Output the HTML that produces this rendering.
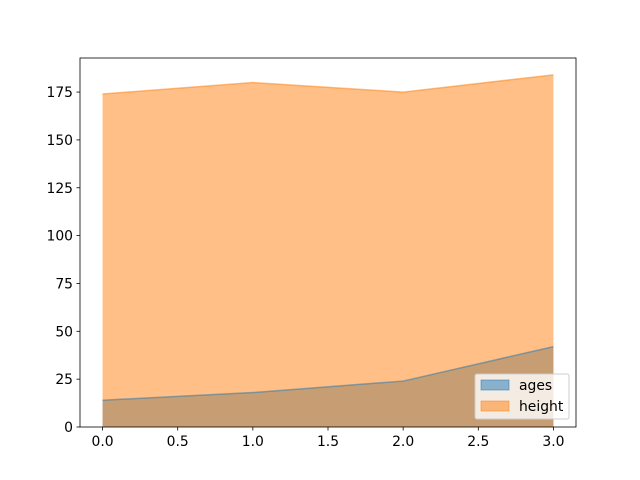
<!DOCTYPE html>
<html><head><meta charset="utf-8"><style>body{margin:0;background:#fff}svg{display:block;font-family:"DejaVu Sans","Liberation Sans",sans-serif}</style></head>
<body>
<svg id="chart" width="640" height="480"></svg>
<script>
const categories=[0,1,2,3];
const ages=[14,18,24,42];
const height=[174,180,175,184];
const xTicks=[0,0.5,1,1.5,2,2.5,3];
const xTickLabels=["0.0","0.5","1.0","1.5","2.0","2.5","3.0"];
const yTicks=[0,25,50,75,100,125,150,175];
const svg=document.getElementById('chart');
const NS='http://www.w3.org/2000/svg';
const L=80,R=576,T=58,B=427,xmin=-0.15,xmax=3.15,ymin=0,ymax=192.8;
const xs=v=>L+(v-xmin)/(xmax-xmin)*(R-L);
const ys=v=>B-(v-ymin)/(ymax-ymin)*(B-T);
function mk(t,a){const e=document.createElementNS(NS,t);for(const k in a)e.setAttribute(k,a[k]);svg.appendChild(e);return e;}
function area(vals,color,name){
  let d='M'+xs(categories[0])+','+ys(0);
  categories.forEach((c,i)=>d+=' L'+xs(c)+','+ys(vals[i]));
  d+=' L'+xs(categories[categories.length-1])+','+ys(0)+' Z';
  const p=mk('path',{d:d,fill:color,'fill-opacity':0.5});
  
  
}
function line(vals,color,name){
  const pts=categories.map((c,i)=>xs(c)+','+ys(vals[i])).join(' ');
  const l=mk('polyline',{points:pts,fill:'none',stroke:color,'stroke-opacity':0.5,'stroke-width':1.5});
  
  
}
area(ages,'#1f77b4','ages');
area(height,'#ff7f0e','height');
line(ages,'#1f77b4','ages');
line(height,'#ff7f0e','height');
const frame=mk('rect',{x:L,y:T,width:R-L,height:B-T,fill:'none',stroke:'#000','stroke-width':0.8});


xTicks.forEach((v,i)=>{
  const x=xs(v);
  mk('line',{x1:x,x2:x,y1:B,y2:B+3.5,stroke:'#000','stroke-width':0.8});
  const t=mk('text',{x:x,y:B+19,'text-anchor':'middle','font-size':13.9});
  t.textContent=xTickLabels[i];
  
  
});
yTicks.forEach(v=>{
  const y=ys(v);
  mk('line',{x1:L-3.5,x2:L,y1:y,y2:y,stroke:'#000','stroke-width':0.8});
  const t=mk('text',{x:L-7,y:y+5,'text-anchor':'end','font-size':13.9});
  t.textContent=v;
  
  
});
const lg=mk('rect',{x:475,y:374,width:94,height:45,rx:2,fill:'#fff','fill-opacity':0.8,stroke:'#ccc'});


[['ages','#1f77b4',380],['height','#ff7f0e',401]].forEach(([n,c,y])=>{
  const r=mk('rect',{x:481,y:y,width:28,height:10,fill:c,'fill-opacity':0.5,stroke:c,'stroke-opacity':0.5});
  
  
  const t=mk('text',{x:519,y:y+10,'font-size':13.9});
  t.textContent=n;
  
  
});
</script>
</body></html>
